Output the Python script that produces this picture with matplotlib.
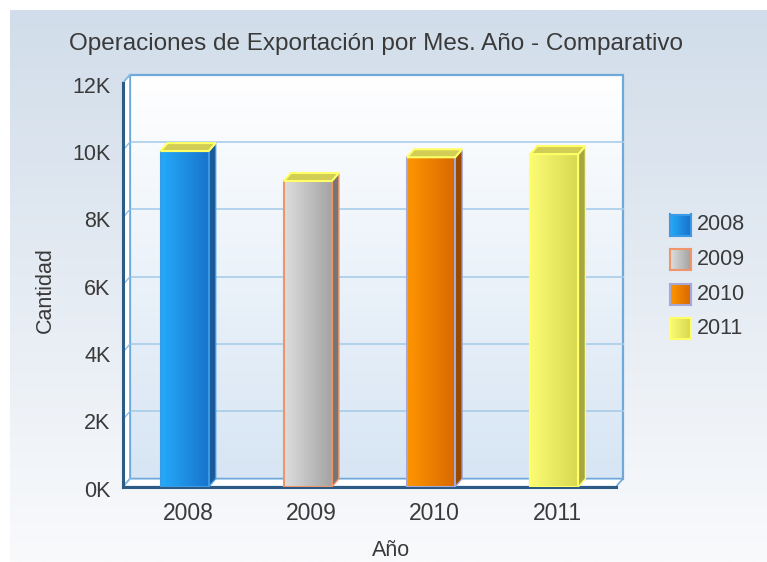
import numpy as np
import matplotlib
matplotlib.use("Agg")
import matplotlib.pyplot as plt
from matplotlib.patches import Polygon, Rectangle
from matplotlib.transforms import ScaledTranslation

# ---- data ----
categories = ["2008", "2009", "2010", "2011"]
values = [9970, 9080, 9785, 9880]
yticks = [0, 2000, 4000, 6000, 8000, 10000, 12000]
ytick_labels = ["0K", "2K", "4K", "6K", "8K", "10K", "12K"]
title = "Operaciones de Exportación por Mes. Año - Comparativo"
xlabel = "Año"
ylabel = "Cantidad"

# ---- styles ----
grad_left = ["#25aafa", "#dedede", "#ff9600", "#fbfb74"]
grad_right = ["#1872cc", "#a2a2a2", "#d86800", "#d8d850"]
side_cols = ["#1a5a9a", "#767676", "#984a00", "#a6a642"]
edge_cols = ["#3a9ae6", "#f0956a", "#a8a8d8", "#ffff66"]
top_face = "#d2cd55"
top_edge = "#ffff66"
txt = "#3a3a3a"

plt.rcParams['font.family'] = ['Liberation Sans', 'DejaVu Sans']
FS = 15.5

W, H = 767, 562
fig = plt.figure(figsize=(W / 100, H / 100), dpi=100)

# background gradient
bg = fig.add_axes([0, 0, 1, 1])
bg.set_xlim(0, W)
bg.set_ylim(H, 0)
bg.axis('off')
g = np.linspace(0, 1, 256).reshape(-1, 1)
c0 = np.array(matplotlib.colors.to_rgb("#d1ddea"))
c1 = np.array(matplotlib.colors.to_rgb("#f9fafc"))
img = c0[None, None, :] * (1 - g[:, :, None]) + c1[None, None, :] * g[:, :, None]
bg.imshow(img, extent=(10, W, H, 10), aspect='auto', zorder=0)

# main axes = front plane
L, R, B, T = 123, 616, 486.7, 82.7
ax = fig.add_axes([L / W, 1 - B / H, (R - L) / W, (B - T) / H])
ax.patch.set_visible(False)
for s in ax.spines.values():
    s.set_visible(False)
n = len(categories)
ax.set_xlim(-0.5, n - 0.5)
ax.set_ylim(0, 12000)
dxp, dyp = 7, 8
dxd = dxp / ((R - L) / n)
dyd = dyp / ((B - T) / 12000)
x0w, x1w = -0.5, n - 0.5
ymax = 12000

# back wall gradient
wg = np.linspace(0, 1, 256).reshape(-1, 1)
w0 = np.array(matplotlib.colors.to_rgb("#ffffff"))
w1 = np.array(matplotlib.colors.to_rgb("#d7e5f4"))
wimg = w0[None, None, :] * (1 - wg[:, :, None]) + w1[None, None, :] * wg[:, :, None]
ax.imshow(wimg, extent=(x0w + dxd, x1w + dxd, dyd, ymax + dyd), origin='upper',
          aspect='auto', zorder=1, clip_on=False)
ax.add_patch(Rectangle((x0w + dxd, dyd), n, ymax, fill=False, ec="#6fa9d9",
                       lw=1.6, zorder=2, clip_on=False))
# gridlines
for yv in yticks[1:-1]:
    ax.plot([x0w + dxd, x1w + dxd], [yv + dyd, yv + dyd], color="#a9cdea",
            lw=1.2, zorder=2, clip_on=False)
# left wall and floor
ax.add_patch(Polygon([(x0w, 0), (x0w + dxd, dyd), (x0w + dxd, ymax + dyd), (x0w, ymax)],
                     closed=True, fc="white", ec="#6fa9d9", lw=1.2, zorder=2, clip_on=False))
ax.add_patch(Polygon([(x0w, 0), (x1w, 0), (x1w + dxd, dyd), (x0w + dxd, dyd)],
                     closed=True, fc="white", ec="#6fa9d9", lw=1.2, zorder=2, clip_on=False))
for yv in yticks:
    ax.plot([x0w, x0w + dxd], [yv, yv + dyd], color="#8fbde3", lw=1, zorder=3, clip_on=False)
ax.plot([x0w, x0w], [0, ymax], color="#2c5b86", lw=2.2, zorder=3, clip_on=False)
ax.plot([x0w, x1w], [0, 0], color="#2c5b86", lw=2.2, zorder=3, clip_on=False)

# bars
bw = 0.39
xs = np.arange(n)
bars = ax.bar(xs, values, width=bw, facecolor='none', edgecolor=edge_cols, lw=1.5, zorder=6)
hg = np.linspace(0, 1, 128).reshape(1, -1)
for i, (p, v) in enumerate(zip(bars, values)):
    a = np.array(matplotlib.colors.to_rgb(grad_left[i]))
    b = np.array(matplotlib.colors.to_rgb(grad_right[i]))
    gi = a[None, None, :] * (1 - hg[:, :, None]) + b[None, None, :] * hg[:, :, None]
    bx0 = xs[i] - bw / 2
    bx1 = xs[i] + bw / 2
    im = ax.imshow(gi, extent=(bx0, bx1, 0, v), aspect='auto', zorder=5, clip_on=False)
    # side face
    ax.add_patch(Polygon([(bx1, 0), (bx1 + dxd, dyd), (bx1 + dxd, v + dyd), (bx1, v)],
                         closed=True, fc=side_cols[i], ec=edge_cols[i], lw=1, zorder=5, clip_on=False))
    # top face
    ax.add_patch(Polygon([(bx0, v), (bx1, v), (bx1 + dxd, v + dyd), (bx0 + dxd, v + dyd)],
                         closed=True, fc=top_face, ec=top_edge, lw=1.5, zorder=7, clip_on=False))
ax.set_xlim(-0.5, n - 0.5)
ax.set_ylim(0, 12000)

# ticks
ax.set_yticks(yticks)
ax.set_yticklabels(ytick_labels)
ax.set_xticks(xs)
ax.set_xticklabels(categories)
ax.tick_params(axis='both', length=0, labelsize=FS, labelcolor=txt)
ax.tick_params(axis='x', labelsize=16.5)
ax.tick_params(axis='y', pad=9)
ax.tick_params(axis='x', pad=11)
for lab in ax.get_xticklabels():
    lab.set_transform(lab.get_transform() + ScaledTranslation(3.5 / 100, 0, fig.dpi_scale_trans))
for lab in ax.get_yticklabels():
    lab.set_transform(lab.get_transform() + ScaledTranslation(0, -2 / 100, fig.dpi_scale_trans))

# titles
fig.text(376 / W, 1 - 44 / H, title, ha='center', va='center', fontsize=17.5, color=txt)
fig.text(391 / W, 1 - 551 / H, xlabel, ha='center', va='center', fontsize=FS, color=txt)
fig.text(45 / W, 1 - 290 / H, ylabel, ha='center', va='center', rotation=90, fontsize=FS, color=txt)

# legend (manual)
leg_y = [225, 259.5, 294.5, 328]
for i, cat in enumerate(categories):
    s = 21
    lax = fig.add_axes([670 / W, 1 - (leg_y[i] + s / 2) / H, s / W, s / H])
    a = np.array(matplotlib.colors.to_rgb(grad_left[i]))
    b = np.array(matplotlib.colors.to_rgb(grad_right[i]))
    gi = a[None, None, :] * (1 - hg[:, :, None]) + b[None, None, :] * hg[:, :, None]
    lax.imshow(gi, aspect='auto')
    lax.set_xticks([])
    lax.set_yticks([])
    for sp in lax.spines.values():
        sp.set_color(edge_cols[i])
        sp.set_linewidth(1.5)
    fig.text(697 / W, 1 - leg_y[i] / H, cat, ha='left', va='center', fontsize=FS, color=txt)

fig.savefig("out.png", dpi=100)
